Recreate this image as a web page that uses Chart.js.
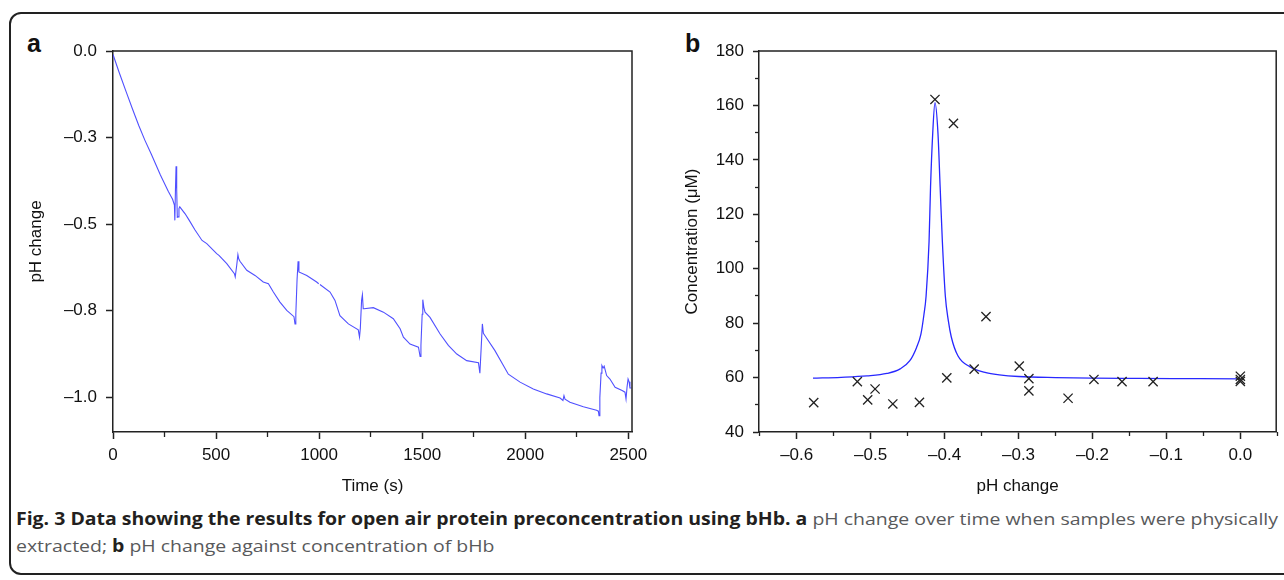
<!DOCTYPE html>
<html>
<head>
<meta charset="utf-8">
<script src="https://cdn.jsdelivr.net/npm/chart.js@4.4.1/dist/chart.umd.min.js"></script>
<style>
  html, body { margin:0; padding:0; background:#fff; }
  body { width:1284px; height:580px; position:relative; overflow:hidden; }
  .frame { position:absolute; left:9px; top:12px; width:1300px; height:563px; border:2px solid #222; border-radius:12px; box-sizing:border-box; }
  canvas { position:absolute; top:0; }
  .panel { position:absolute; font-family:'Liberation Sans', Arial, sans-serif; font-weight:bold; font-size:25px; color:#111; line-height:1; }
  .caption { position:absolute; left:16px; font-family:'Open Sans', 'Noto Sans', sans-serif; font-size:17px; color:#58595b; white-space:nowrap; transform-origin:0 0; }
  .caption b { color:#231f20; }
</style>
</head>
<body>
<div class="frame"></div>
<div class="panel" style="left:27px; top:31px;">a</div>
<div class="panel" style="left:685px; top:31px;">b</div>
<canvas id="ca" width="660" height="500" style="left:0;width:660px;height:500px"></canvas>
<canvas id="cb" width="624" height="500" style="left:660px;width:624px;height:500px"></canvas>
<div class="caption" id="cap1" style="top:507px;"><b>Fig. 3 Data showing the results for open air protein preconcentration using bHb. a</b> pH change over time when samples were physically</div>
<div class="caption" id="cap2" style="top:534px;">extracted; <b>b</b> pH change against concentration of bHb</div>
<script>
// ---------- Panel a data ----------
const aTime = [0,30,64,95,125,155,186,230,268,289,298,300,303,306,309,312,316,320,324,350,370,398,432,455,503,514,552,589,593,600,606,610,616,649,689,729,754,778,810,843,878,883,887,893,898,902,940,988,998,1000,1004,1053,1077,1101,1142,1190,1196,1200,1206,1210,1214,1218,1263,1312,1360,1393,1409,1441,1482,1490,1494,1500,1503,1508,1514,1538,1587,1627,1668,1716,1773,1780,1786,1792,1797,1805,1853,1918,1975,2039,2104,2169,2183,2188,2193,2217,2282,2346,2355,2358,2362,2368,2372,2378,2383,2395,2411,2436,2470,2484,2489,2494,2499,2504,2508,2515];
const aPH = [-0.01,-0.062,-0.118,-0.168,-0.215,-0.258,-0.298,-0.358,-0.405,-0.428,-0.445,-0.489,-0.40,-0.333,-0.40,-0.48,-0.479,-0.455,-0.45,-0.47,-0.489,-0.517,-0.547,-0.556,-0.585,-0.59,-0.614,-0.643,-0.652,-0.62,-0.588,-0.60,-0.607,-0.633,-0.648,-0.667,-0.672,-0.696,-0.725,-0.749,-0.767,-0.788,-0.76,-0.66,-0.607,-0.638,-0.648,-0.667,-0.672,null,-0.674,-0.696,-0.720,-0.764,-0.788,-0.805,-0.826,-0.80,-0.72,-0.704,-0.744,-0.744,-0.741,-0.754,-0.773,-0.802,-0.826,-0.846,-0.855,-0.882,-0.85,-0.76,-0.718,-0.74,-0.754,-0.769,-0.817,-0.850,-0.875,-0.894,-0.900,-0.930,-0.86,-0.788,-0.815,-0.822,-0.865,-0.933,-0.956,-0.976,-0.990,-1.002,-1.009,-0.995,-1.005,-1.014,-1.027,-1.037,-1.040,-1.053,-1.0,-0.93,-0.908,-0.915,-0.91,-0.937,-0.947,-0.971,-0.980,-0.985,-1.005,-0.97,-0.947,-0.955,-0.973,-0.973];
const aXTicks = [0,500,1000,1500,2000,2500];
const aXTickLabels = ['0','500','1000','1500','2000','2500'];
const aXMinorTicks = [250,750,1250,1750,2250];
const aYTicks = [-1.0,-0.75,-0.5,-0.25,0];
const aYTickLabels = ['–1.0','–0.8','–0.5','–0.3','0.0'];

// ---------- Panel b data ----------
const bPH = [-0.577,-0.518,-0.504,-0.494,-0.470,-0.434,-0.413,-0.397,-0.388,-0.360,-0.344,-0.299,-0.286,-0.286,-0.233,-0.198,-0.160,-0.118,0.0,0.0,0.0];
const bConc = [50.8,58.5,51.8,55.8,50.3,50.9,162.2,59.9,153.4,63.1,82.4,64.2,59.6,55.1,52.4,59.3,58.5,58.5,60.5,59.3,58.6];
const bFitPH = [-0.578,-0.54,-0.505,-0.478,-0.46,-0.447,-0.438,-0.432,-0.428,-0.425,-0.421,-0.419,-0.416,-0.413,-0.409,-0.406,-0.403,-0.399,-0.395,-0.391,-0.382,-0.366,-0.344,-0.326,-0.3,-0.25,-0.2,-0.137,-0.07,0.0];
const bFitConc = [59.8,60.1,60.6,61.5,63.2,66.2,71,76,83,90,110,130,150,161,150,130,110,90,81,75,68,64,61.8,61,60.4,60,59.8,59.7,59.6,59.5];
const bXTicks = [-0.6,-0.5,-0.4,-0.3,-0.2,-0.1,0.0];
const bXTickLabels = ['–0.6','–0.5','–0.4','–0.3','–0.2','–0.1','0.0'];
const bXMinorTicks = [-0.65,-0.55,-0.45,-0.35,-0.25,-0.15,-0.05,0.05];
const bYTicks = [40,60,80,100,120,140,160,180];
const bYTickLabels = ['40','60','80','100','120','140','160','180'];
const bYMinorTicks = [50,70,90,110,130,150,170];

// ---------- styling helpers ----------
const AX = '#222';
const TXT = '#111';
const FONT = {family:"'Liberation Sans', Arial, sans-serif", size:17};
const setTicks = vals => (s => { s.ticks = vals.map(v => ({value:v})); });

function majorAxis(opts) {
  return {
    type:'linear', min:opts.min, max:opts.max, position:opts.position, weight:1,
    afterBuildTicks: setTicks(opts.ticks),
    afterFit: opts.fit,
    ticks:{ callback:(v,i)=>opts.labels[i], font:FONT, color:TXT, padding:opts.pad, autoSkip:false, maxRotation:0 },
    grid:{ drawOnChartArea:false, tickLength:opts.tl, tickColor:AX, tickWidth:1.5 },
    border:{ color:AX, width:1.5 },
    title:{ display:true, text:opts.title, font:FONT, color:TXT, padding:opts.titlePad }
  };
}
function minorAxis(opts) {
  return {
    type:'linear', min:opts.min, max:opts.max, position:opts.position, weight:0,
    afterBuildTicks: setTicks(opts.ticks),
    afterFit: s => { if (opts.position === 'bottom') s.height = 0; else s.width = 0; },
    ticks:{ display:false },
    grid:{ drawOnChartArea:false, tickLength:opts.tl, tickColor:AX, tickWidth:1.3 },
    border:{ display:false }
  };
}
const framePlugin = {
  id:'frame',
  afterDraw(chart) {
    const a = chart.chartArea, c = chart.ctx;
    c.save(); c.strokeStyle = AX; c.lineWidth = 1.5;
    c.beginPath(); c.moveTo(a.left, a.top); c.lineTo(a.right, a.top); c.lineTo(a.right, a.bottom); c.stroke();
    c.restore();
  }
};
const common = { responsive:false, devicePixelRatio:1, animation:false, plugins:{ legend:{display:false}, tooltip:{enabled:false} } };

// ---------- Chart a ----------
new Chart(document.getElementById('ca'), {
  type:'line',
  data:{ datasets:[{
    data: aTime.map((t,i)=>({x:t, y:aPH[i]})),
    borderColor:'rgb(80,80,255)', borderWidth:1.1, pointRadius:0, tension:0, spanGaps:false
  }]},
  options:Object.assign({}, common, {
    layout:{ padding:{ left:0, top:51, right:28, bottom:0 } },
    scales:{
      x: majorAxis({min:0, max:2518, position:'bottom', ticks:aXTicks, labels:aXTickLabels, tl:7, pad:6,
        fit:s=>{s.height = 68;}, title:'Time (s)', titlePad:{top:0,bottom:3}}),
      xMinor: minorAxis({min:0, max:2518, position:'bottom', ticks:aXMinorTicks, tl:5}),
      y: majorAxis({min:-1.1, max:0, position:'left', ticks:aYTicks, labels:aYTickLabels, tl:7, pad:9,
        fit:s=>{s.width = 113;}, title:'pH change', titlePad:{top:26,bottom:0}})
    }
  }),
  plugins:[framePlugin]
});

// ---------- Chart b ----------
new Chart(document.getElementById('cb'), {
  type:'scatter',
  data:{ datasets:[
    { data: bPH.map((x,i)=>({x:x, y:bConc[i]})), pointStyle:'crossRot', pointRadius:6.5, borderColor:'#222', backgroundColor:'#222', pointBorderWidth:1.3, showLine:false },
    { type:'line', data: bFitPH.map((x,i)=>({x:x, y:bFitConc[i]})), borderColor:'rgb(40,40,255)', borderWidth:1.3, pointRadius:0, cubicInterpolationMode:'monotone' }
  ]},
  options:Object.assign({}, common, {
    layout:{ padding:{ left:0, top:51, right:6, bottom:0 } },
    scales:{
      x: majorAxis({min:-0.651, max:0.0485, position:'bottom', ticks:bXTicks, labels:bXTickLabels, tl:7, pad:6,
        fit:s=>{s.height = 68;}, title:'pH change', titlePad:{top:0,bottom:3}}),
      xMinor: minorAxis({min:-0.651, max:0.0485, position:'bottom', ticks:bXMinorTicks, tl:4}),
      y: majorAxis({min:40, max:180, position:'left', ticks:bYTicks, labels:bYTickLabels, tl:6, pad:9,
        fit:s=>{s.width = 99;}, title:'Concentration (μM)', titlePad:{top:22,bottom:0}}),
      yMinor: minorAxis({min:40, max:180, position:'left', ticks:bYMinorTicks, tl:4})
    }
  }),
  plugins:[framePlugin]
});

// fit caption line 1 to the reference line width
const c1 = document.getElementById('cap1'), c2 = document.getElementById('cap2');
const w = c1.getBoundingClientRect().width;
const k = 1262 / w;
c1.style.transform = 'scaleX(' + k + ')';
c2.style.transform = 'scaleX(' + k + ')';
</script>
</body>
</html>
